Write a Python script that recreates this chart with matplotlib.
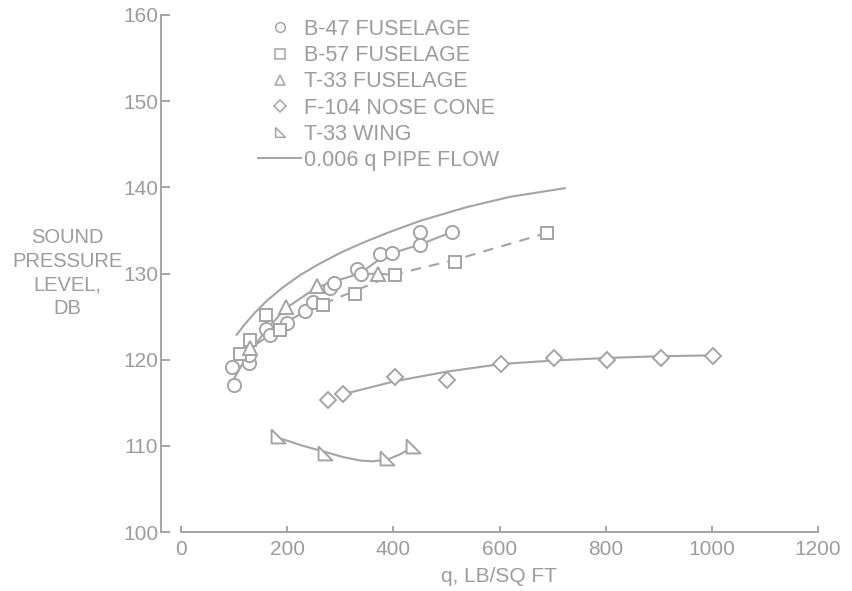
import matplotlib
matplotlib.use("Agg")
import matplotlib.pyplot as plt
from matplotlib.lines import Line2D

plt.rcParams['font.family'] = ['Liberation Sans', 'DejaVu Sans']

GREY = '#a4a4a4'
TEXT = '#9c9c9c'

# measured points (q in lb/sq ft, SPL in dB)
b47_q = [97, 100, 128, 128, 161, 168, 200, 234, 248, 281, 289, 332, 339, 375, 398, 451, 451, 510]
b47_spl = [119.1, 117.1, 119.6, 120.5, 123.6, 122.9, 124.3, 125.6, 126.7, 128.3, 128.9, 130.5, 129.9,
           132.3, 132.4, 134.8, 133.3, 134.8]

b57_q = [111, 130, 161, 187, 268, 328, 403, 517, 689]
b57_spl = [120.7, 122.3, 125.2, 123.4, 126.4, 127.6, 129.8, 131.3, 134.7]

t33_q = [130, 197, 256, 372]
t33_spl = [121.3, 126.1, 128.5, 130.0]

f104_q = [277, 306, 403, 502, 603, 703, 803, 904, 1003]
f104_spl = [115.3, 116.0, 118.0, 117.6, 119.5, 120.2, 120.0, 120.2, 120.4]

wing_q = [183, 271, 389, 437]
wing_spl = [111.1, 109.2, 108.6, 110.0]

# faired curves
pipe_q = [105, 120, 140, 161, 190, 224, 260, 300, 340, 388, 450, 538, 620, 723]
pipe_spl = [122.9, 124.1, 125.5, 126.8, 128.3, 129.8, 131.1, 132.4, 133.5, 134.7, 136.1, 137.7,
            138.9, 139.9]

upper_q = [97, 127, 160, 196, 256, 300, 337, 375, 400, 452, 510]
upper_spl = [117.5, 120.7, 123.4, 125.9, 128.4, 129.3, 130.0, 131.7, 132.4, 133.4, 134.8]

branch_q = [337, 372, 403]
branch_spl = [129.9, 130.0, 129.8]

lower_q = [112, 128, 168, 199, 234, 268]
lower_spl = [120.4, 121.2, 122.9, 124.4, 125.6, 126.5]

dash_q = [268, 328, 403, 517, 689]
dash_spl = [126.5, 128.0, 129.9, 131.6, 134.7]

f104_fit_q = [306, 403, 500, 603, 703, 803, 903, 1003]
f104_fit_spl = [116.0, 117.5, 118.6, 119.5, 119.9, 120.2, 120.4, 120.5]

wing_fit_q = [190, 230, 271, 305, 337, 360, 389, 412, 436]
wing_fit_spl = [110.8, 110.0, 109.3, 108.7, 108.3, 108.2, 108.4, 109.0, 109.8]

xticks = [0, 200, 400, 600, 800, 1000, 1200]
yticks = [100, 110, 120, 130, 140, 150, 160]

wing_marker = [(-1, 1), (-1, -1), (1, -1), (-1, 1)]

fig = plt.figure(figsize=(8.52, 5.91), dpi=100)
ax = fig.add_axes([181 / 852, 1 - 532 / 591, (818 - 181) / 852, (532 - 15) / 591])

lw = 1.5
ax.plot(pipe_q, pipe_spl, color=GREY, lw=lw)
ax.plot(upper_q, upper_spl, color=GREY, lw=lw)
ax.plot(branch_q, branch_spl, color=GREY, lw=lw)
ax.plot(lower_q, lower_spl, color=GREY, lw=lw)
ax.plot(dash_q, dash_spl, color=GREY, lw=lw, dashes=(5, 4))
ax.plot(f104_fit_q, f104_fit_spl, color=GREY, lw=lw)
ax.plot(wing_fit_q, wing_fit_spl, color=GREY, lw=lw)

mk = dict(linestyle='none', mfc='white', mec=GREY, mew=1.4, zorder=3)
ax.plot(b47_q, b47_spl, marker='o', ms=9.5, **mk)
ax.plot(b57_q, b57_spl, marker='s', ms=9, **mk)
ax.plot(t33_q, t33_spl, marker='^', ms=10, **mk)
ax.plot(f104_q, f104_spl, marker='D', ms=8.5, **mk)
ax.plot(wing_q, wing_spl, marker=wing_marker, ms=10, **mk)

ax.set_xlim(0, 1200)
ax.set_ylim(100, 160)
ax.set_xticks(xticks)
ax.set_yticks(yticks)

for s in ['top', 'right']:
    ax.spines[s].set_visible(False)
ax.spines['left'].set_position(('outward', 14.4))
ax.spines['left'].set_bounds(100, 160)
ax.spines['bottom'].set_bounds(0, 1200)
for s in ['left', 'bottom']:
    ax.spines[s].set_color(GREY)
    ax.spines[s].set_linewidth(1.4)

ax.tick_params(axis='y', direction='in', length=6.5, width=1.4, color=GREY,
               labelcolor=TEXT, labelsize=15, pad=2)
ax.tick_params(axis='x', direction='in', length=4.5, width=1.4, color=GREY,
               labelcolor=TEXT, labelsize=15, pad=6)

fig.text(67 / 852, 1 - 273 / 591, "SOUND\nPRESSURE\nLEVEL,\nDB", ha='center', va='center',
         color=TEXT, fontsize=14.5, linespacing=1.33)
fig.text(499 / 852, 1 - 577 / 591, "q, LB/SQ FT", ha='center', va='center', color=TEXT, fontsize=15)

lk = dict(linestyle='none', mfc='white', mec=GREY, mew=1.1)
handles = [
    Line2D([], [], marker='o', ms=7, **lk),
    Line2D([], [], marker='s', ms=6.5, **lk),
    Line2D([], [], marker='^', ms=7, **lk),
    Line2D([], [], marker='D', ms=6.5, **lk),
    Line2D([], [], marker=wing_marker, ms=7, **lk),
    Line2D([], [], color=GREY, lw=1.4),
]
labels = ["B-47 FUSELAGE", "B-57 FUSELAGE", "T-33 FUSELAGE", "F-104 NOSE CONE",
          "T-33 WING", "0.006 q PIPE FLOW"]
leg = ax.legend(handles, labels, loc='upper left', bbox_to_anchor=(258 / 852, 1 - 19 / 591),
                bbox_transform=fig.transFigure, frameon=False, fontsize=15.5, handlelength=2.0,
                handletextpad=0.15, labelspacing=0.24, borderpad=0, borderaxespad=0)
for t in leg.get_texts():
    t.set_color(TEXT)

fig.savefig("out.png", dpi=100)
